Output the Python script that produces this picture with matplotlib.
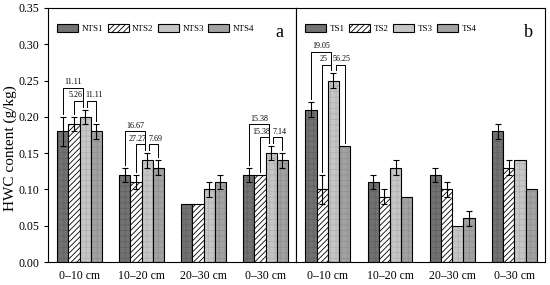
import numpy as np
import matplotlib
matplotlib.use("Agg")
import matplotlib.pyplot as plt

plt.rcParams['font.family'] = ['Liberation Serif', 'DejaVu Serif']
plt.rcParams['hatch.linewidth'] = 0.6

depths = ['0\u201310 cm', '10\u201320 cm', '20\u201330 cm', '0\u201330 cm']

nts_names = ['NTS1', 'NTS2', 'NTS3', 'NTS4']
nts_vals = [
    [0.18, 0.12, 0.08, 0.12],
    [0.19, 0.11, 0.08, 0.12],
    [0.20, 0.14, 0.10, 0.15],
    [0.18, 0.13, 0.11, 0.14],
]
nts_err = [
    [0.02, 0.01, 0.0, 0.01],
    [0.01, 0.01, 0.0, 0.0],
    [0.01, 0.01, 0.01, 0.01],
    [0.01, 0.01, 0.01, 0.01],
]

ts_names = ['TS1', 'TS2', 'TS3', 'TS4']
ts_vals = [
    [0.21, 0.11, 0.12, 0.18],
    [0.10, 0.09, 0.10, 0.13],
    [0.25, 0.13, 0.05, 0.14],
    [0.16, 0.09, 0.06, 0.10],
]
ts_err = [
    [0.01, 0.01, 0.01, 0.01],
    [0.02, 0.01, 0.01, 0.01],
    [0.01, 0.01, 0.0, 0.0],
    [0.0, 0.0, 0.01, 0.0],
]

# bracket labels: group index -> (bar1 vs bar3, bar2 vs bar3, bar3 vs bar4)
nts_marks = {0: ['11.11', '5.26', '11.11'], 1: ['16.67', '27.27', '7.69'],
             3: ['15.38', '15.38', '7.14']}
ts_marks = {0: ['19.05', '25', '56.25']}

facecolors = ['#727272', 'white', '#c6c6c6', '#a2a2a2']
texture = ['#626262', None, '#b2b2b2', '#929292']
hatches = [None, '//////', None, None]

fig = plt.figure(figsize=(5.5, 2.85), dpi=100)
ax1 = fig.add_axes([0.0873, 0.0807, 0.4509, 0.8913])
ax2 = fig.add_axes([0.5382, 0.0807, 0.4527, 0.8913], sharey=ax1)

w = 0.18
x = np.arange(len(depths))


def bracket(ax, xa, xb, y, ya, yb, label, dx=0.0):
    ax.plot([xa, xa, xb, xb], [ya, y, y, yb], color='k', lw=0.7)
    ax.text((xa + xb) / 2 + dx, y + 0.002, label, ha='center', va='bottom',
            fontsize=5.8)


def panel(ax, names, vals, errs, marks, tag):
    for i in range(4):
        pos = x + (i - 1.5) * w
        if texture[i]:
            ax.bar(pos, vals[i], w, color=facecolors[i], linewidth=0)
            ax.bar(pos, vals[i], w, fill=False, edgecolor=texture[i],
                   linewidth=0, hatch='+++')
            ax.bar(pos, vals[i], w, fill=False, edgecolor='k', linewidth=0.8)
            ax.bar([0], [0], w, color=facecolors[i], edgecolor='k',
                   linewidth=0.8, label=names[i])
        else:
            ax.bar(pos, vals[i], w, color=facecolors[i], edgecolor='k',
                   linewidth=0.8, hatch=hatches[i], label=names[i])
        e = np.array(errs[i])
        m = e > 0
        ax.errorbar(pos[m], np.array(vals[i])[m], yerr=e[m], fmt='none',
                    ecolor='k', elinewidth=0.8, capsize=2.5, capthick=0.8)
    for g, labels in marks.items():
        pos = [g + (i - 1.5) * w for i in range(4)]
        tops = [vals[i][g] + errs[i][g] for i in range(4)]
        gap = 0.004
        inner = max(tops) + 0.012
        outer = inner + 0.018
        s = 0.035
        bracket(ax, pos[0], pos[2] - s, outer, tops[0] + gap, inner, labels[0])
        bracket(ax, pos[1], pos[2] - s, inner, tops[1] + gap, tops[2] + gap,
                labels[1], dx=-0.05)
        bracket(ax, pos[2] + s, pos[3], inner, tops[2] + gap, tops[3] + gap,
                labels[2], dx=0.03)
    ax.set_xticks(x)
    ax.set_xticklabels(depths, fontsize=8.5)
    ax.tick_params(axis='x', length=0, pad=6)
    ax.set_xlim(-0.51, 3.49)
    ax.legend(loc='upper left', ncol=4, frameon=False, fontsize=6.5,
              handlelength=2.3, handleheight=1.1, columnspacing=0.5,
              handletextpad=0.4, bbox_to_anchor=(0.005, 0.97))
    ax.text(0.95, 0.905, tag, transform=ax.transAxes, fontsize=13,
            ha='right', va='center')


panel(ax1, nts_names, nts_vals, nts_err, nts_marks, 'a')
panel(ax2, ts_names, ts_vals, ts_err, ts_marks, 'b')

ax1.set_ylim(0, 0.35)
ax1.set_yticks(np.arange(0, 0.351, 0.05))
ax1.set_yticklabels(['%.2f' % v for v in np.arange(0, 0.351, 0.05)], fontsize=8.5)
ax1.tick_params(axis='y', length=3, direction='out')
ax1.set_ylabel('HWC content (g/kg)', fontsize=11)
ax1.yaxis.set_label_coords(-0.125, 0.45)
ax2.tick_params(axis='y', left=False, labelleft=False)

fig.savefig('out.png', dpi=100)
